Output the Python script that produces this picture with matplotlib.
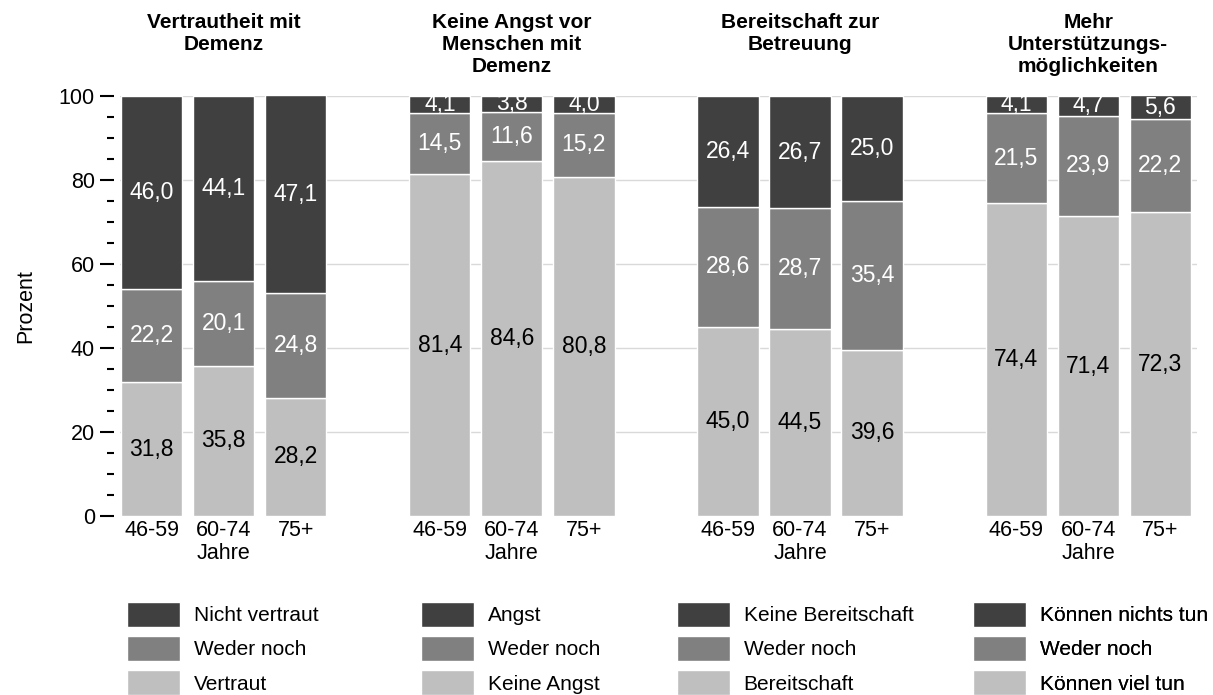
import numpy as np
import matplotlib
matplotlib.use("Agg")
import matplotlib.pyplot as plt
import matplotlib.transforms as mtransforms
from matplotlib.patches import Patch
from matplotlib.ticker import MultipleLocator

plt.rcParams["font.family"] = ["Liberation Sans", "DejaVu Sans"]

# Daten
titles = ["Vertrautheit mit\nDemenz", "Keine Angst vor\nMenschen mit\nDemenz",
          "Bereitschaft zur\nBetreuung", "Mehr\nUnterstützungs-\nmöglichkeiten"]
age_groups = ["46-59", "60-74\nJahre", "75+"]
light_vals = [[31.8, 35.8, 28.2], [81.4, 84.6, 80.8], [45.0, 44.5, 39.6], [74.4, 71.4, 72.3]]
mid_vals = [[22.2, 20.1, 24.8], [14.5, 11.6, 15.2], [28.6, 28.7, 35.4], [21.5, 23.9, 22.2]]
dark_vals = [[46.0, 44.1, 47.1], [4.1, 3.8, 4.0], [26.4, 26.7, 25.0], [4.1, 4.7, 5.6]]
legend_labels = [["Nicht vertraut", "Weder noch", "Vertraut"],
                 ["Angst", "Weder noch", "Keine Angst"],
                 ["Keine Bereitschaft", "Weder noch", "Bereitschaft"],
                 ["Können nichts tun", "Weder noch", "Können viel tun"]]

c_dark, c_mid, c_light = "#404040", "#808080", "#bfbfbf"
legend_x = [127 / 1213, 421 / 1213, 677 / 1213, 973 / 1213]  # linke Kante der Legenden

fig = plt.figure(figsize=(12.13, 6.95), dpi=100)
ax = fig.add_axes([0.0989, 0.2576, 0.8879, 0.6044])
trans = mtransforms.blended_transform_factory(ax.transData, fig.transFigure)

width = 0.85
fmt = lambda v: f"{v:.1f}".replace(".", ",")
all_pos, all_labels = [], []
for g in range(4):
    x = np.arange(3) + 4 * g
    lo = np.array(light_vals[g])
    mi = np.array(mid_vals[g])
    da = np.array(dark_vals[g])
    ax.bar(x, lo, width, color=c_light, edgecolor="white", linewidth=1, zorder=3)
    ax.bar(x, mi, width, bottom=lo, color=c_mid, edgecolor="white", linewidth=1, zorder=3)
    ax.bar(x, da, width, bottom=lo + mi, color=c_dark, edgecolor="white", linewidth=1, zorder=3)
    for i in range(3):
        ax.text(x[i], lo[i] / 2, fmt(lo[i]), ha="center", va="center",
                fontsize=16.5, color="black", zorder=4)
        ax.text(x[i], lo[i] + mi[i] / 2, fmt(mi[i]), ha="center", va="center",
                fontsize=16.5, color="white", zorder=4)
        ax.text(x[i], lo[i] + mi[i] + da[i] / 2, fmt(da[i]), ha="center", va="center",
                fontsize=16.5, color="white", zorder=4)
    all_pos += list(x)
    all_labels += age_groups

    # Titel
    ax.text(x[1], 0.982, titles[g], transform=trans, ha="center", va="top",
            fontsize=15, fontweight="bold", linespacing=1.2)

    # Legende
    handles = [Patch(facecolor=c, edgecolor="white") for c in (c_dark, c_mid, c_light)]
    leg = ax.legend(handles, legend_labels[g], loc="upper left",
                    bbox_to_anchor=(legend_x[g], 0.1345), bbox_transform=fig.transFigure,
                    frameon=False, fontsize=15, handlelength=2.55, handleheight=1.47,
                    handletextpad=0.65, labelspacing=0.45, borderpad=0, borderaxespad=0)
    ax.add_artist(leg)

ax.set_xlim(-0.44, 14.51)
ax.set_ylim(0, 100)
ax.set_xticks(all_pos)
ax.set_xticklabels(all_labels, fontsize=15.5, linespacing=1.1)
ax.tick_params(axis="x", length=0, pad=3)

ax.yaxis.set_major_locator(MultipleLocator(20))
ax.yaxis.set_minor_locator(MultipleLocator(5))
ax.tick_params(axis="y", which="major", length=10, width=1.5, labelsize=15.5, pad=4)
ax.tick_params(axis="y", which="minor", length=5, width=1.5)
ax.set_ylabel("Prozent", fontsize=15.5, labelpad=16)

for s in ax.spines.values():
    s.set_visible(False)
ax.spines["left"].set_position(("outward", 4))

for y in [20, 40, 60, 80, 100]:
    ax.axhline(y, color="#d9d9d9", linewidth=1, zorder=1)

fig.savefig("out.png", dpi=100)
